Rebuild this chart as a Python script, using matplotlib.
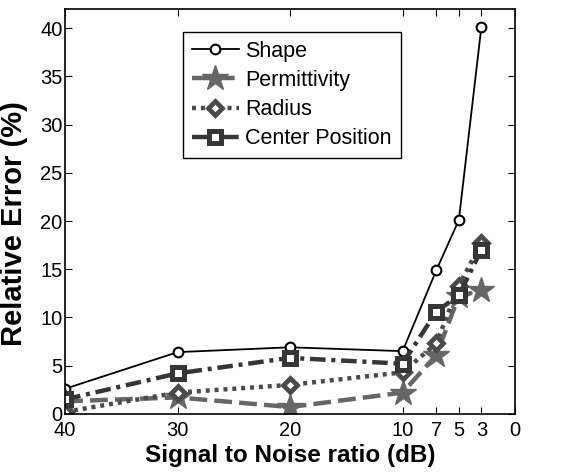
import matplotlib
matplotlib.use("Agg")
import matplotlib.pyplot as plt

plt.rcParams['font.family'] = ['Liberation Sans', 'DejaVu Sans']

# SNR levels (dB) and relative errors (%)
snr = [40, 30, 20, 10, 7, 5, 3]
shape = [2.6, 6.4, 6.9, 6.5, 14.9, 20.1, 40.1]
permittivity = [1.3, 1.7, 0.7, 2.2, 6.1, 12.2, 12.8]
radius = [0.2, 2.2, 3.0, 4.3, 7.3, 13.3, 17.7]
center = [1.5, 4.2, 5.8, 5.2, 10.6, 12.3, 17.0]

xticks = [40, 30, 20, 10, 7, 5, 3, 0]
yticks = [0, 5, 10, 15, 20, 25, 30, 35, 40]

fig = plt.figure(figsize=(5.82, 4.74), dpi=100)
ax = fig.add_axes([0.112, 0.127, 0.773, 0.854])

ax.plot(snr, shape, color='black', lw=1.3, marker='o', ms=7,
        mfc='white', mec='black', mew=1.5, label='Shape')
ax.plot(snr, permittivity, color='#666666', lw=3.2, ls=(0, (4, 1.6)), marker='*', ms=19,
        mfc='#666666', mec='#666666', label='Permittivity')
ax.plot(snr, radius, color='#4a4a4a', lw=3.2, ls=(0, (0.9, 1.1)), marker='D', ms=7.5,
        mfc='white', mec='#4a4a4a', mew=3.4, label='Radius')
ax.plot(snr, center, color='#363636', lw=3.2, ls=(0, (3.5, 1.3, 0.9, 1.3)), marker='s', ms=8.5,
        mfc='white', mec='#363636', mew=3.6, label='Center Position')

ax.set_xlim(40, 0)
ax.set_ylim(0, 42)
ax.set_xticks(xticks)
ax.set_yticks(yticks)
ax.tick_params(direction='in', top=True, right=True, labelsize=14.5, length=5)
ax.tick_params(axis='x', pad=5)
ax.tick_params(axis='y', pad=2)
for s in ax.spines.values():
    s.set_linewidth(1.2)

ax.set_xlabel('Signal to Noise ratio (dB)', fontsize=17.5, fontweight='bold', labelpad=3)
ax.set_ylabel('Relative Error (%)', fontsize=21, fontweight='bold')
ax.yaxis.set_label_coords(-0.083, 0.47)

leg = ax.legend(loc='upper left', bbox_to_anchor=(0.262, 0.943), fontsize=15.5,
                fancybox=False, edgecolor='black', framealpha=1,
                handlelength=2.2, borderpad=0.4, labelspacing=0.38, handletextpad=0.3,
                borderaxespad=0)
leg.get_frame().set_linewidth(1.0)

fig.savefig('out.png', dpi=100)
